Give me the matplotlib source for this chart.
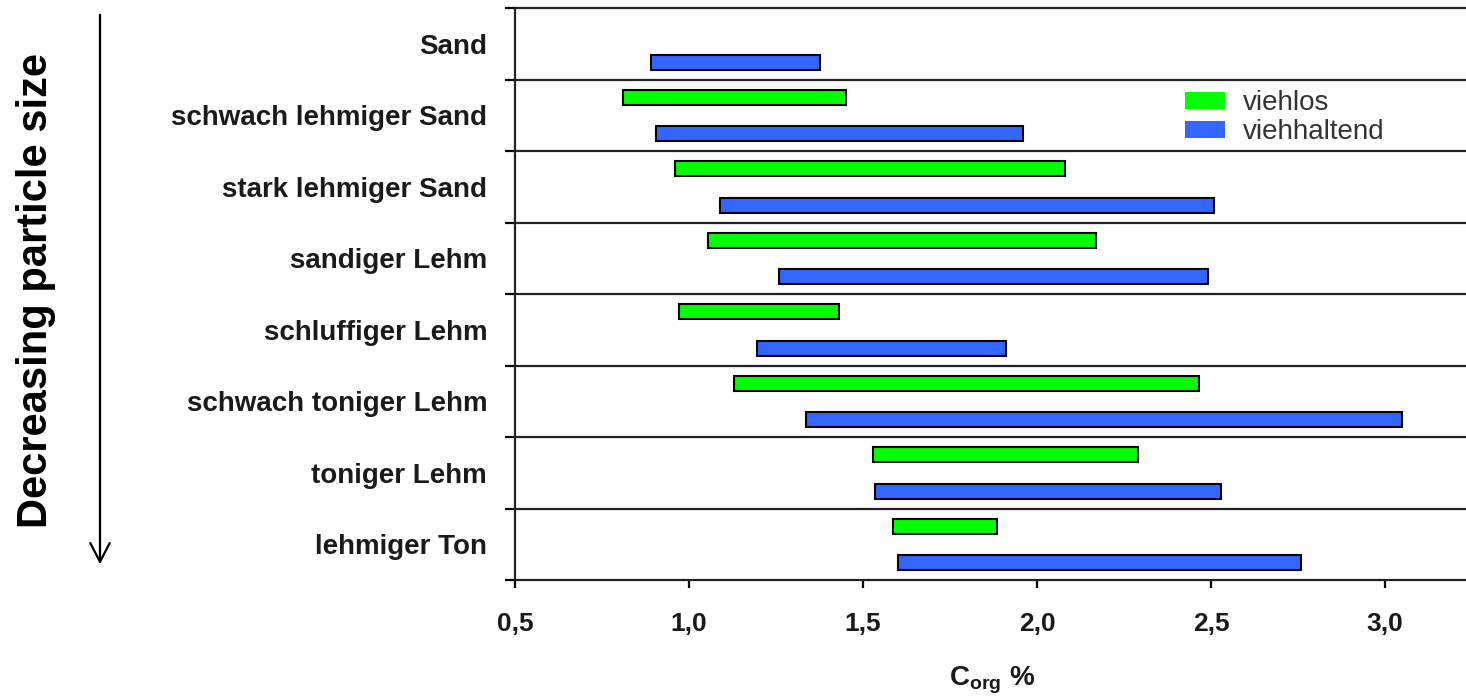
import numpy as np
import matplotlib.pyplot as plt
from matplotlib.patches import Patch

# soil texture classes, top to bottom (decreasing particle size)
classes = ['Sand', 'schwach lehmiger Sand', 'stark lehmiger Sand', 'sandiger Lehm',
           'schluffiger Lehm', 'schwach toniger Lehm', 'toniger Lehm', 'lehmiger Ton']

# Corg % range, farms without livestock (no value for Sand)
viehlos_lo = [np.nan, 0.81, 0.96, 1.055, 0.97, 1.13, 1.53, 1.585]
viehlos_hi = [np.nan, 1.45, 2.08, 2.17, 1.43, 2.465, 2.29, 1.885]

# Corg % range, farms with livestock
viehhaltend_lo = [0.89, 0.905, 1.09, 1.26, 1.195, 1.335, 1.535, 1.60]
viehhaltend_hi = [1.375, 1.96, 2.51, 2.49, 1.91, 3.05, 2.53, 2.76]

xticks = [0.5, 1.0, 1.5, 2.0, 2.5, 3.0]

GREEN = '#00ff00'
BLUE = '#3366ff'

plt.rcParams['font.family'] = ['Liberation Sans', 'DejaVu Sans']
plt.rcParams['mathtext.fontset'] = 'custom'
plt.rcParams['mathtext.rm'] = 'Liberation Sans'
plt.rcParams['mathtext.bf'] = 'Liberation Sans:bold'

fig = plt.figure(figsize=(14.66, 6.97), dpi=100)
ax = fig.add_axes([515 / 1466, 1 - 580 / 697, 1 - 515 / 1466, (580 - 8) / 697])

n = len(classes)
rows = np.arange(n)
lo_g = np.array(viehlos_lo)
hi_g = np.array(viehlos_hi)
lo_b = np.array(viehhaltend_lo)
hi_b = np.array(viehhaltend_hi)

ax.barh(rows + 0.25, hi_g - lo_g, left=lo_g, height=0.21, color=GREEN,
        edgecolor='black', linewidth=1.5, zorder=3)
ax.barh(rows + 0.76, hi_b - lo_b, left=lo_b, height=0.21, color=BLUE,
        edgecolor='black', linewidth=1.5, zorder=3)

# row separators
for b in range(1, n):
    ax.axhline(b, color='#222222', linewidth=1.6, zorder=1)

ax.set_ylim(n, 0)
ax.set_xlim(0.5, 0.5 + (1466 - 515) / 348)

ax.set_yticks(np.arange(n + 1))
ax.set_yticklabels([])
ax.set_yticks(rows + 0.5, minor=True)
ax.set_yticklabels(classes, minor=True, fontsize=20, fontweight='bold', color='#1a1a1a')
ax.tick_params(axis='y', which='major', length=7, width=1.6, direction='out')
ax.tick_params(axis='y', which='minor', length=0, pad=20)

ax.set_xticks(xticks)
ax.set_xticklabels([f'{t:.1f}'.replace('.', ',') for t in xticks],
                   fontsize=19, fontweight='bold', color='#1a1a1a')
ax.tick_params(axis='x', length=6, width=1.6, pad=17)

for s in ['left', 'bottom', 'top']:
    ax.spines[s].set_linewidth(1.6)
    ax.spines[s].set_color('#222222')
ax.spines['right'].set_visible(False)

fig.text(992 / 1466, 1 - 680 / 697, r'$\mathbf{C_{org}}$ %', fontsize=20,
         fontweight='bold', ha='center', va='center', color='#1a1a1a')

fig.text(36 / 1466, 1 - 290 / 697, 'Decreasing particle size', fontsize=30,
         fontweight='bold', rotation=90, ha='center', va='center')

ax.annotate('', xy=(100 / 1466, 1 - 567 / 697), xytext=(100 / 1466, 1 - 12 / 697),
            xycoords='figure fraction', textcoords='figure fraction',
            arrowprops=dict(arrowstyle='->,head_length=1.35,head_width=0.7',
                            color='black', linewidth=1.6))

handles = [Patch(facecolor=GREEN, edgecolor='none', label='viehlos'),
           Patch(facecolor=BLUE, edgecolor='none', label='viehhaltend')]
fig.legend(handles=handles, loc='upper left', bbox_to_anchor=(1185 / 1466, 1 - 90 / 697),
           frameon=False, fontsize=20, borderpad=0, borderaxespad=0,
           handlelength=1.45, handleheight=0.55, handletextpad=0.65,
           labelspacing=0.12, labelcolor='#333333')

fig.savefig('out.png', dpi=100)
